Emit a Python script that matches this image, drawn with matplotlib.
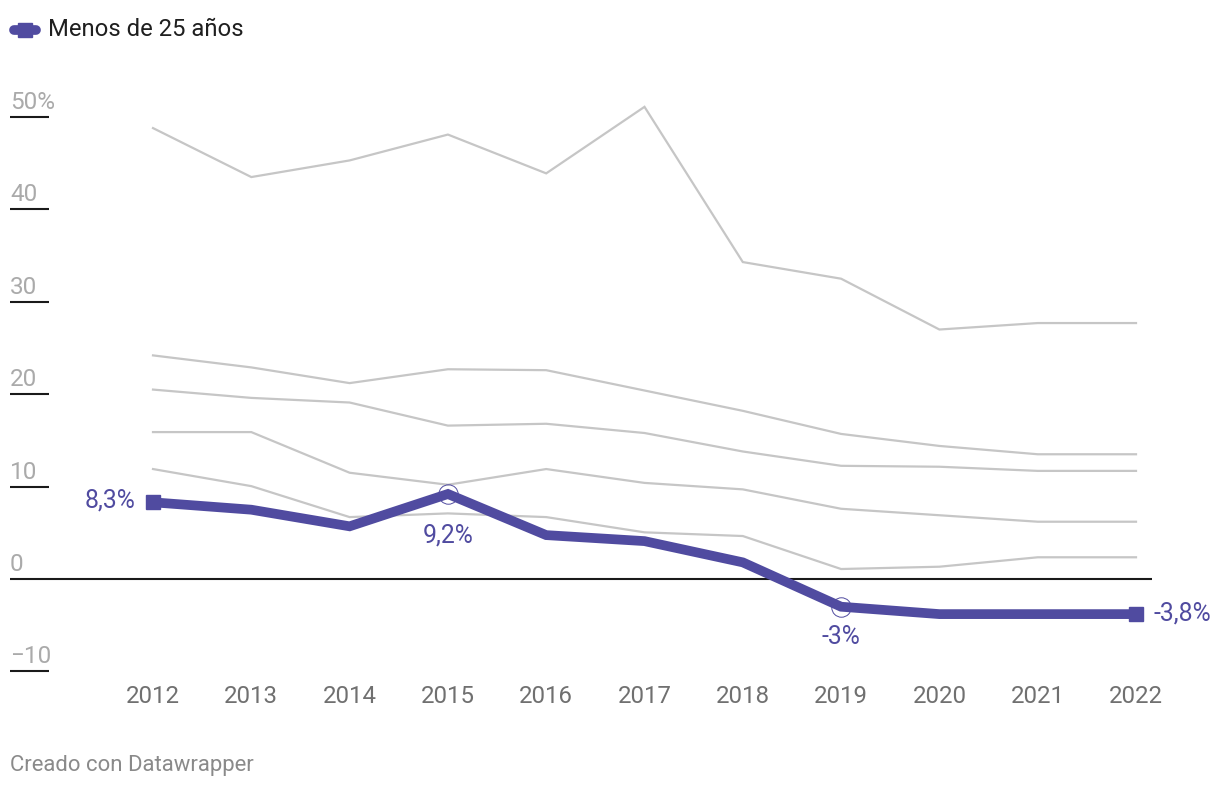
import matplotlib
matplotlib.use("Agg")
import matplotlib.pyplot as plt

# ---- data ----
years = [2012, 2013, 2014, 2015, 2016, 2017, 2018, 2019, 2020, 2021, 2022]
menos_25 = [8.3, 7.5, 5.7, 9.2, 4.75, 4.1, 1.8, -3.0, -3.8, -3.8, -3.8]
serie_a = [48.8, 43.5, 45.3, 48.1, 43.9, 51.1, 34.3, 32.5, 27.0, 27.7, 27.7]
serie_b = [24.2, 22.9, 21.2, 22.7, 22.6, 20.4, 18.2, 15.7, 14.4, 13.5, 13.5]
serie_c = [20.5, 19.6, 19.1, 16.6, 16.8, 15.8, 13.8, 12.25, 12.15, 11.7, 11.7]
serie_d = [15.9, 15.9, 11.5, 10.2, 11.9, 10.4, 9.7, 7.6, 6.9, 6.2, 6.2]
serie_e = [11.9, 10.05, 6.7, 7.1, 6.7, 5.05, 4.65, 1.08, 1.33, 2.35, 2.35]
y_ticks = [50, 40, 30, 20, 10, 0, -10]
y_tick_labels = ["50%", "40", "30", "20", "10", "0", "\u221210"]
legend_label = "Menos de 25 años"
highlight_labels = {2012: "8,3%", 2015: "9,2%", 2019: "-3%", 2022: "-3,8%"}

PURPLE = "#504ba0"
GRAY = "#c6c6c6"
FONT = ["Roboto", "DejaVu Sans"]
plt.rcParams["font.family"] = FONT

W, H = 1220, 788
fig = plt.figure(figsize=(W / 100, H / 100), dpi=100)
PX = 72 / 100.0  # points per pixel

# axes geometry in pixels
left_px, right_px = 10, 1152
ymin, ymax = -11, 53
zero_px, per_unit = 579, 9.24
top_px = zero_px - ymax * per_unit
bot_px = zero_px - ymin * per_unit
ax = fig.add_axes([left_px / W, 1 - bot_px / H, (right_px - left_px) / W, (bot_px - top_px) / H])
per_year = (1136 - 153) / 10
ax.set_xlim(2012 - (153 - left_px) / per_year, 2022 + (right_px - 1136) / per_year)
ax.set_ylim(ymin, ymax)
for s in ax.spines.values():
    s.set_visible(False)
ax.set_yticks([])

# gray lines
for s in [serie_a, serie_b, serie_c, serie_d, serie_e]:
    ax.plot(years, s, color=GRAY, lw=1.6, solid_joinstyle="miter", zorder=2)

# zero line
ax.axhline(0, color="#1a1a1a", lw=1.5, zorder=3)

# y tick marks and labels
ytr = ax.get_yaxis_transform()
ax.hlines([t for t in y_ticks if t != 0], 0, 39 / (right_px - left_px), transform=ytr,
          color="#1a1a1a", lw=1.5, zorder=3)
for t, lab in zip(y_ticks, y_tick_labels):
    ax.annotate(lab, xy=(0, t), xycoords=ytr, xytext=(0, 8 * PX), textcoords="offset points",
                ha="left", va="baseline", fontsize=17.5, color="#aaaaaa")

# highlighted series
ax.plot(years, menos_25, color=PURPLE, lw=7, solid_joinstyle="miter", zorder=5)
ax.plot([years[0], years[-1]], [menos_25[0], menos_25[-1]], ls="none", marker="s",
        ms=10, color=PURPLE, zorder=6)
for yr in (2015, 2019):
    i = years.index(yr)
    ax.plot(years[i], menos_25[i], ls="none", marker="o", ms=14, mfc="none",
            mec=PURPLE, mew=0.7, zorder=6)

offsets = {2012: (-18, 2, "right", "center"), 2015: (0, -42, "center", "center"),
           2019: (0, -30, "center", "center"), 2022: (17, 1, "left", "center")}
for yr, lab in highlight_labels.items():
    i = years.index(yr)
    dx, dy, ha, va = offsets[yr]
    ax.annotate(lab, xy=(years[i], menos_25[i]), xytext=(dx * PX, dy * PX),
                textcoords="offset points", ha=ha, va=va, fontsize=17.8, color=PURPLE, zorder=7)

# x ticks
ax.set_xticks(years)
ax.set_xticklabels([str(y) for y in years])
ax.tick_params(axis="x", length=0, pad=4 * PX, labelsize=17.3, labelcolor="#707070")

# legend (manual)
fig.lines.append(plt.Line2D([14 / W, 36 / W], [1 - 30 / H, 1 - 30 / H], transform=fig.transFigure,
                            color=PURPLE, lw=7, solid_capstyle="round"))
fig.lines.append(plt.Line2D([25 / W], [1 - 30 / H], transform=fig.transFigure, marker="s",
                            ms=10, color=PURPLE, ls="none"))
fig.text(48 / W, 1 - 30 / H, legend_label, ha="left", va="center", fontsize=17.2, color="#1f1f1f")

# footer
fig.text(10 / W, 1 - 765 / H, "Creado con Datawrapper", ha="left", va="center",
         fontsize=15.9, color="#8a8a8a")

fig.savefig("out.png", dpi=100, facecolor="white")
